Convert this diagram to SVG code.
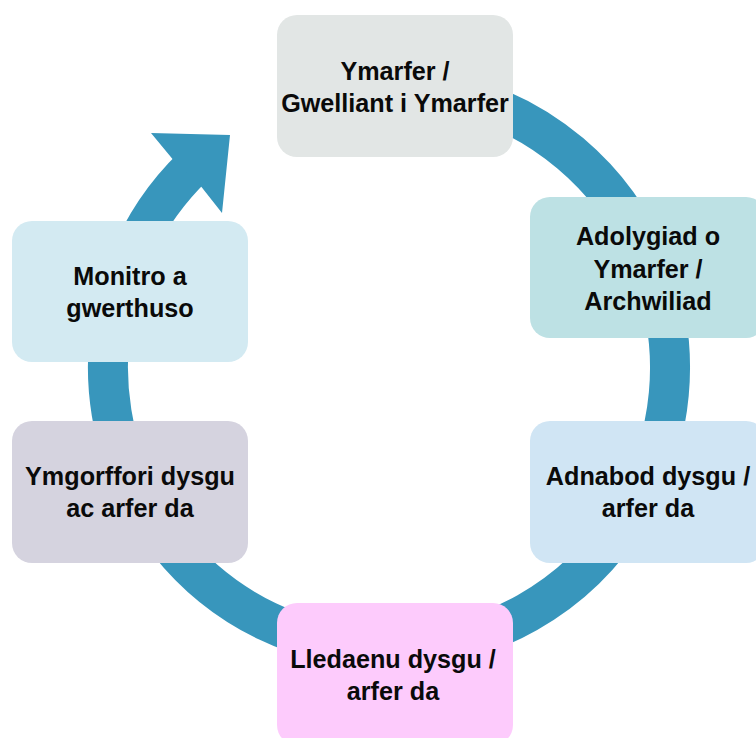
<svg xmlns="http://www.w3.org/2000/svg" width="756" height="738" viewBox="0 0 756 738">
  <style>
    .box { stroke: none; }
    .lbl { font-family: "Liberation Sans", Arial, sans-serif; font-weight: bold; font-size: 25.2px; fill: #0a0a0a; text-anchor: middle; }
    .ring { fill: none; stroke: #3896bc; stroke-width: 40; }
    .head { fill: #3896bc; }
  </style>
  <rect width="756" height="738" fill="#ffffff"/>
  <g id="connectors">
    <path class="ring" d="M316.3,96.6 A281,281 0 1 1 193.8,165.9"/>
    <polygon class="head" points="172.5,158.9 151,133 230,135 222,213 201.3,186.7"/>
  </g>
  <g id="node-ymarfer">
    <rect class="box" x="277" y="15" width="236" height="142" rx="20" fill="#e2e6e5"/>
    <text class="lbl" x="395" y="80">Ymarfer /</text>
    <text class="lbl" x="395" y="112">Gwelliant i Ymarfer</text>
  </g>
  <g id="node-adolygiad">
    <rect class="box" x="530" y="197" width="236" height="141" rx="20" fill="#bde1e4"/>
    <text class="lbl" x="648" y="245">Adolygiad o</text>
    <text class="lbl" x="648" y="277.5">Ymarfer /</text>
    <text class="lbl" x="648" y="310">Archwiliad</text>
  </g>
  <g id="node-adnabod">
    <rect class="box" x="530" y="421" width="236" height="142" rx="20" fill="#d0e5f4"/>
    <text class="lbl" x="648" y="485">Adnabod dysgu /</text>
    <text class="lbl" x="648" y="517">arfer da</text>
  </g>
  <g id="node-lledaenu">
    <rect class="box" x="277" y="603" width="236" height="142" rx="20" fill="#fdcbfc"/>
    <text class="lbl" x="393" y="668">Lledaenu dysgu /</text>
    <text class="lbl" x="393" y="700">arfer da</text>
  </g>
  <g id="node-ymgorffori">
    <rect class="box" x="12" y="421" width="236" height="142" rx="20" fill="#d5d3df"/>
    <text class="lbl" x="130" y="485">Ymgorffori dysgu</text>
    <text class="lbl" x="130" y="517">ac arfer da</text>
  </g>
  <g id="node-monitro">
    <rect class="box" x="12" y="221" width="236" height="141" rx="20" fill="#d3eaf2"/>
    <text class="lbl" x="130" y="285">Monitro a</text>
    <text class="lbl" x="130" y="317">gwerthuso</text>
  </g>
</svg>
